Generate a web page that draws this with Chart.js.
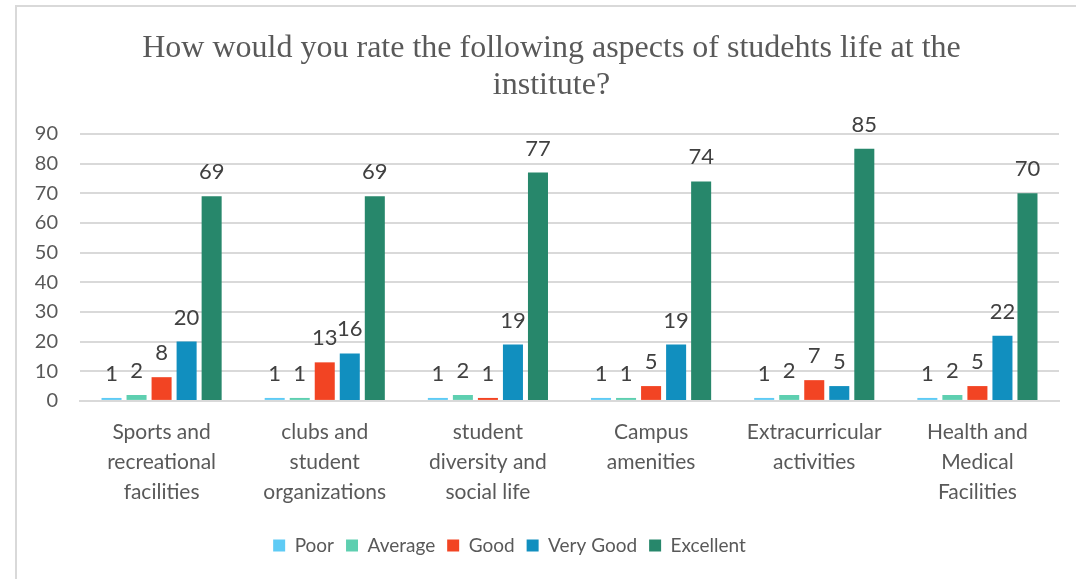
<!DOCTYPE html>
<html>
<head>
<meta charset="utf-8">
<title>Aspects of students life</title>
<script src="https://cdn.jsdelivr.net/npm/chart.js@4.4.1/dist/chart.umd.min.js"></script>
<style>
  html, body { margin: 0; padding: 0; background: #ffffff; }
  .frame {
    position: absolute; left: 15px; top: 5px; right: 0; bottom: 0;
    border-top: 2px solid #d9d9d9; border-left: 2px solid #d9d9d9;
  }
  .wrap { position: absolute; left: 0; top: 0; width: 1076px; height: 579px; }
</style>
</head>
<body>
<div class="frame"></div>
<div class="wrap"><canvas id="ratingChart"></canvas></div>

<script>
// Chart data
const categories = [
  ["Sports and", "recreational", "facilities"],
  ["clubs and", "student", "organizations"],
  ["student", "diversity and", "social life"],
  ["Campus", "amenities"],
  ["Extracurricular", "activities"],
  ["Health and", "Medical", "Facilities"],
];
const poor = [1, 1, 1, 1, 1, 1];
const average = [2, 1, 2, 1, 2, 2];
const good = [8, 13, 1, 5, 7, 5];
const veryGood = [20, 16, 19, 19, 5, 22];
const excellent = [69, 69, 77, 74, 85, 70];
const yTicks = [0, 10, 20, 30, 40, 50, 60, 70, 80, 90];

const textColor = "#595959";
const sansFont = "Lato, 'Open Sans', sans-serif";

/**
 * Draw value labels above each bar
 */
const barLabels = {
  id: "barLabels",
  afterDatasetsDraw(chart) {
    const ctx = chart.ctx;
    ctx.save();
    ctx.font = "22px " + sansFont;
    ctx.fillStyle = "#404040";
    ctx.textAlign = "center";
    ctx.textBaseline = "alphabetic";
    chart.data.datasets.forEach((ds, i) => {
      const meta = chart.getDatasetMeta(i);
      meta.data.forEach((bar, j) => {
        ctx.fillText(String(ds.data[j]), bar.x, bar.y - 17);
      });
    });
    ctx.restore();
  },
};

/**
 * Nudge legend left and title right, like the original
 */
const boxShift = {
  id: "boxShift",
  afterLayout(chart) {
    if (chart.legend) {
      chart.legend.left -= 30;
      chart.legend.right -= 30;
    }
    if (chart.titleBlock) {
      chart.titleBlock.left += 12;
      chart.titleBlock.right += 12;
    }
  },
};

function makeSet(label, data, color) {
  return {
    label: label,
    data: data,
    backgroundColor: color,
    borderWidth: 0,
    categoryPercentage: 0.767,
    barPercentage: 0.8,
  };
}

new Chart(document.getElementById("ratingChart"), {
  type: "bar",
  data: {
    labels: categories,
    datasets: [
      makeSet("Poor", poor, "#5ecbf5"),
      makeSet("Average", average, "#5ecfb0"),
      makeSet("Good", good, "#f24423"),
      makeSet("Very Good", veryGood, "#118fbf"),
      makeSet("Excellent", excellent, "#27876b"),
    ],
  },
  options: {
    responsive: true,
    maintainAspectRatio: false,
    animation: false,
    layout: {
      padding: { left: 20, right: 17, top: 30, bottom: 14 },
    },
    plugins: {
      title: {
        display: true,
        text: [
          "How would you rate the following aspects of studehts life at the",
          "institute?",
        ],
        color: textColor,
        font: { family: "'Liberation Serif', 'Times New Roman', serif", size: 32, weight: "normal", lineHeight: 1.156 },
        padding: { top: 0, bottom: 30 },
      },
      legend: {
        position: "bottom",
        labels: {
          color: textColor,
          font: { family: sansFont, size: 19 },
          boxWidth: 12,
          boxHeight: 12,
          padding: 12,
        },
      },
      tooltip: { enabled: false },
    },
    scales: {
      x: {
        afterFit(scale) {
          scale.height += 1;
        },
        grid: { display: false, drawTicks: false },
        border: { display: true, color: "#d9d9d9", width: 2 },
        ticks: {
          color: textColor,
          font: { family: sansFont, size: 21, lineHeight: 1.43 },
          padding: 16,
          maxRotation: 0,
          autoSkip: false,
        },
      },
      y: {
        min: 0,
        max: 90,
        afterFit(scale) {
          scale.width = 60;
        },
        afterBuildTicks(scale) {
          scale.ticks = yTicks.map((v) => ({ value: v }));
        },
        grid: { color: "#d9d9d9", lineWidth: 2, drawTicks: false },
        border: { display: false },
        ticks: {
          color: textColor,
          font: { family: sansFont, size: 20 },
          padding: 22,
        },
      },
    },
  },
  plugins: [barLabels, boxShift],
});
</script>
</body>
</html>
